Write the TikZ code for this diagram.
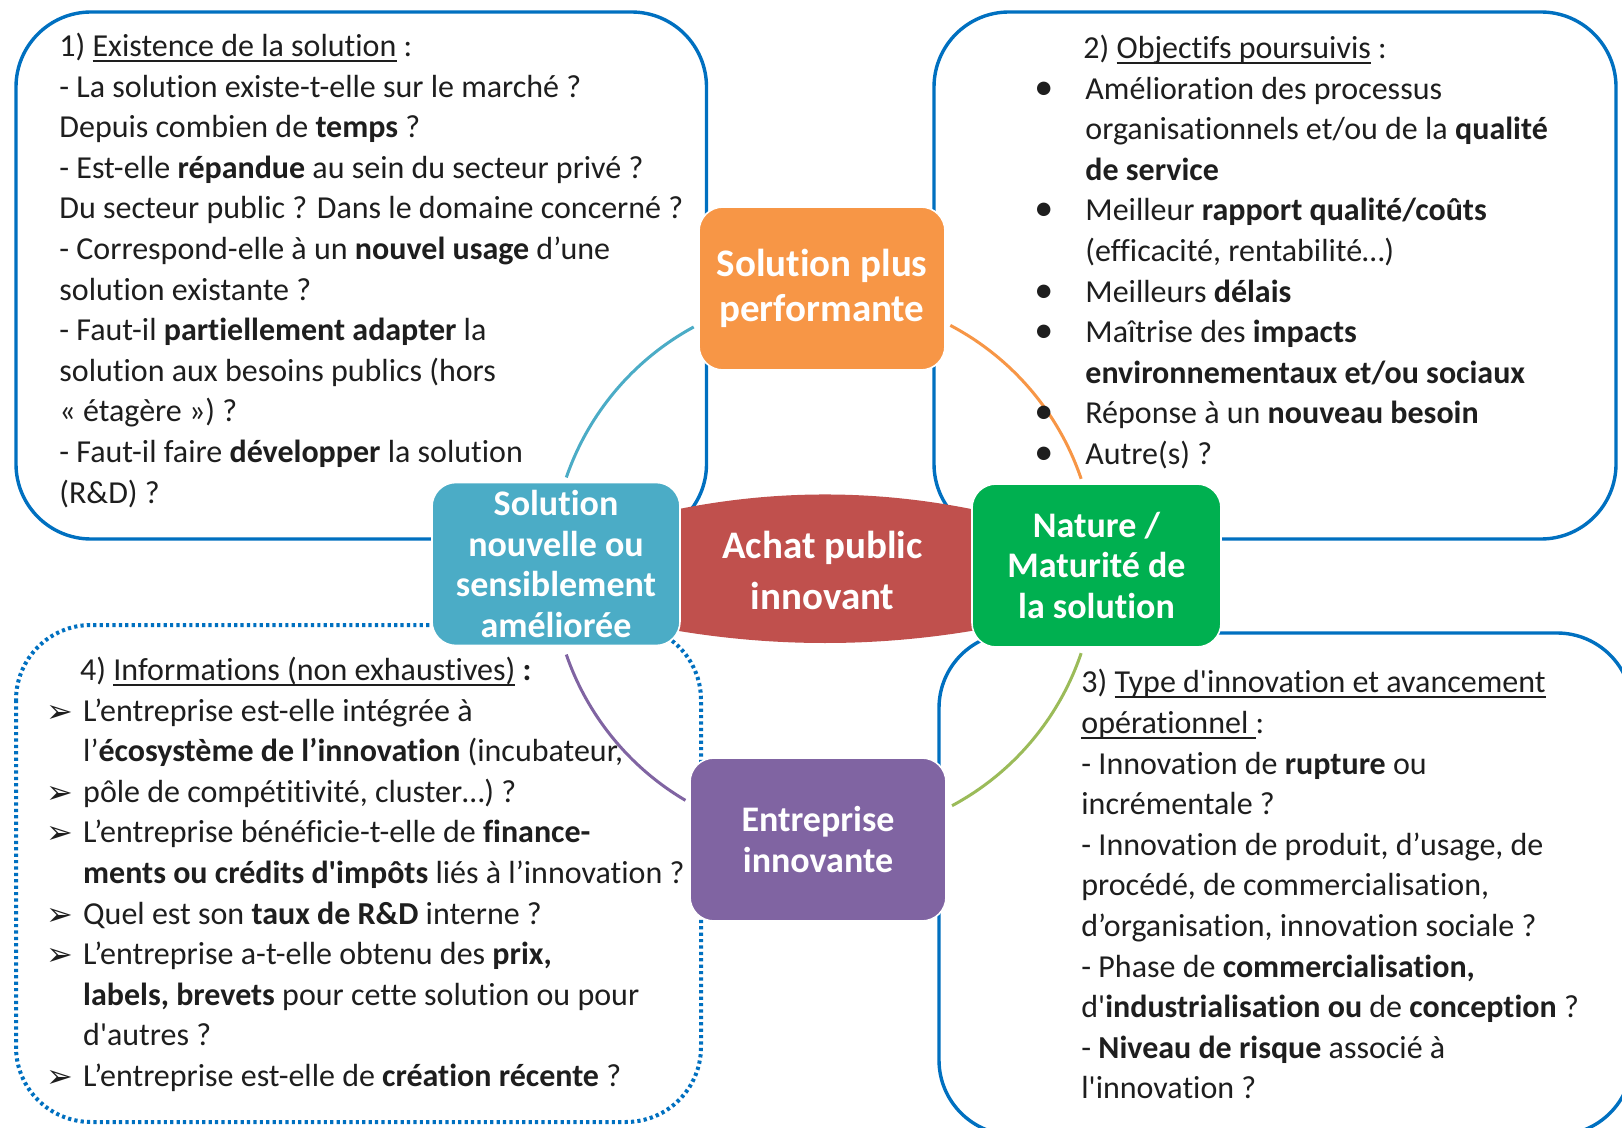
\documentclass[tikz,border=0pt]{standalone}
\usepackage{fontspec}
\setmainfont{Carlito}[Ligatures={TeX,NoCommon}]
\newfontfamily\symfont{DejaVu Sans}
\definecolor{boxblue}{HTML}{0070C0}
\definecolor{corange}{HTML}{F79646}
\definecolor{cteal}{HTML}{4BACC6}
\definecolor{cred}{HTML}{C0504D}
\definecolor{cgreen}{HTML}{00B050}
\definecolor{cpurple}{HTML}{8064A2}
\definecolor{carcgreen}{HTML}{9BBB59}
\definecolor{ink}{HTML}{1E1E1E}
\newcommand\ulx[1]{\leavevmode\setbox0=\hbox{#1}\rlap{\rule[-0.16em]{\wd0}{0.055em}}\box0\relax}
\newcommand\arw{\leavevmode\llap{\makebox[18.5pt][l]{\raisebox{-0.5pt}{\symfont\fontsize{16}{16}\selectfont ➢}}}}
\newcommand\bul{\leavevmode\llap{\makebox[25.5pt][l]{\fontsize{19}{19}\selectfont •}}}
\newcommand\bodyfont{\fontsize{16}{20.3}\selectfont}
\newcommand\bigf{\fontsize{19.5}{22.75}\selectfont\bfseries}
\newcommand\redf{\fontsize{19.5}{25.3}\selectfont\bfseries}
\newcommand\medf{\fontsize{18}{20.4}\selectfont\bfseries}
\tikzset{
  bbox/.style={draw=boxblue, line width=1.7pt, rounded corners=37.5pt},
  dbox/.style={draw=boxblue, line width=2pt, rounded corners=37.5pt, dash pattern=on 1.6pt off 1.6pt},
  cnode/.style={rounded corners=12pt, draw=white, line width=0.8pt, text=white, align=center, inner sep=0pt, minimum height=81.5pt},
  arcline/.style={line width=1.5pt},
  txt/.style={anchor=base west, inner sep=0pt, text=ink}
}
\begin{document}
\begin{tikzpicture}[x=0.5pt, y=-0.5pt]
\useasboundingbox (0,0) rectangle (1622,1128);
\clip (0,0) rectangle (1622,1128);
\fill[white] (0,0) rectangle (1622,1128);

% outer boxes
\draw[bbox] (16,12) rectangle (706.5,539);
\draw[bbox] (934,12) rectangle (1616,539);
\draw[bbox] (939,633) rectangle (1632,1135);
\draw[dbox] (16,625) rectangle (701,1122);

% circle arcs
\coordinate (O) at (823.5,566);
\draw[arcline, cteal] (O) ++(-161:272) arc[start angle=-161, end angle=-118.5, radius=272];
\draw[arcline, corange] (O) ++(-62.2:272) arc[start angle=-62.2, end angle=-18.7, radius=272];
\draw[arcline, carcgreen] (O) ++(18.7:272) arc[start angle=18.7, end angle=61.8, radius=272];
\draw[arcline, cpurple] (O) ++(161:272) arc[start angle=161, end angle=120.5, radius=272];

% central shape
\fill[cred] (660,513) .. controls (770,488.3) and (880,488.3) .. (990,513) -- (990,627.7) .. controls (880,648.1) and (770,648.1) .. (660,627.7) -- cycle;
\node[text=white, align=center, inner sep=0pt, font=\redf] (achat) at (822.5,570.5) {Achat public\\innovant};

% satellite nodes
\node[cnode, fill=corange, minimum width=123pt, font=\bigf] (perf) at (822,288.5) {Solution plus\\performante};
\node[cnode, fill=cteal, minimum width=124pt, font=\medf] (nouv) at (556,564) {Solution\\nouvelle ou\\sensiblement\\améliorée};
\node[cnode, fill=cgreen, minimum width=124.5pt, font=\medf] (mat) at (1096.5,565.5) {Nature /\\Maturité de\\la solution};
\node[cnode, fill=cpurple, minimum width=128pt, font=\medf] (entr) at (818,839.5) {Entreprise\\innovante};

% box texts
\node[txt] (t1) at (59,56.5) {\begin{minipage}[t]{350pt}\bodyfont\raggedright
1) \ulx{Existence de la solution} :\\
- La solution existe-t-elle sur le marché ?\\
Depuis combien de \textbf{temps} ?\\
- Est-elle \textbf{répandue} au sein du secteur privé ?\\
Du secteur public ? Dans le domaine concerné ?\\
- Correspond-elle à un \textbf{nouvel usage} d’une\\
solution existante ?\\
- Faut-il \textbf{partiellement adapter} la\\
solution aux besoins publics (hors\\
« étagère ») ?\\
- Faut-il faire \textbf{développer} la solution\\
(R\&D) ?
\end{minipage}};

\node[txt] (t2) at (1085,58.6) {\begin{minipage}[t]{300pt}\bodyfont\raggedright
\hspace*{-1pt}2) \ulx{Objectifs poursuivis} :\\
\bul Amélioration des processus\\
organisationnels et/ou de la \textbf{qualité}\\
\textbf{de service}\\
\bul Meilleur \textbf{rapport qualité/coûts}\\
(efficacité, rentabilité…)\\
\bul Meilleurs \textbf{délais}\\
\bul Maîtrise des \textbf{impacts}\\
\textbf{environnementaux et/ou sociaux}\\
\bul Réponse à un \textbf{nouveau besoin}\\
\bul Autre(s) ?
\end{minipage}};

\node[txt] (t3) at (1081,692.8) {\begin{minipage}[t]{300pt}\bodyfont\raggedright
3) \ulx{Type d\textquotesingle innovation et avancement}\\
\ulx{opérationnel }:\\
- Innovation de \textbf{rupture} ou\\
incrémentale ?\\
- Innovation de produit, d’usage, de\\
procédé, de commercialisation,\\
d’organisation, innovation sociale ?\\
- Phase de \textbf{commercialisation,}\\
d\textquotesingle\textbf{industrialisation ou} de \textbf{conception} ?\\
- \textbf{Niveau de risque} associé à\\
l\textquotesingle innovation ?
\end{minipage}};

\node[txt] (t4) at (82.8,680.4) {\begin{minipage}[t]{350pt}\bodyfont\raggedright
\hspace*{-1.5pt}4) \ulx{Informations (non exhaustives)} \textbf{:}\\
\arw L’entreprise est-elle intégrée à\\
l’\textbf{écosystème de l’innovation} (incubateur,\\
\arw pôle de compétitivité, cluster…) ?\\
\arw L’entreprise bénéficie-t-elle de \textbf{finance-}\\
\textbf{ments ou crédits d\textquotesingle impôts} liés à l’innovation ?\\
\arw Quel est son \textbf{taux de R\&D} interne ?\\
\arw L’entreprise a-t-elle obtenu des \textbf{prix,}\\
\textbf{labels, brevets} pour cette solution ou pour\\
d\textquotesingle autres ?\\
\arw L’entreprise est-elle de \textbf{création récente} ?
\end{minipage}};
\end{tikzpicture}
\end{document}
